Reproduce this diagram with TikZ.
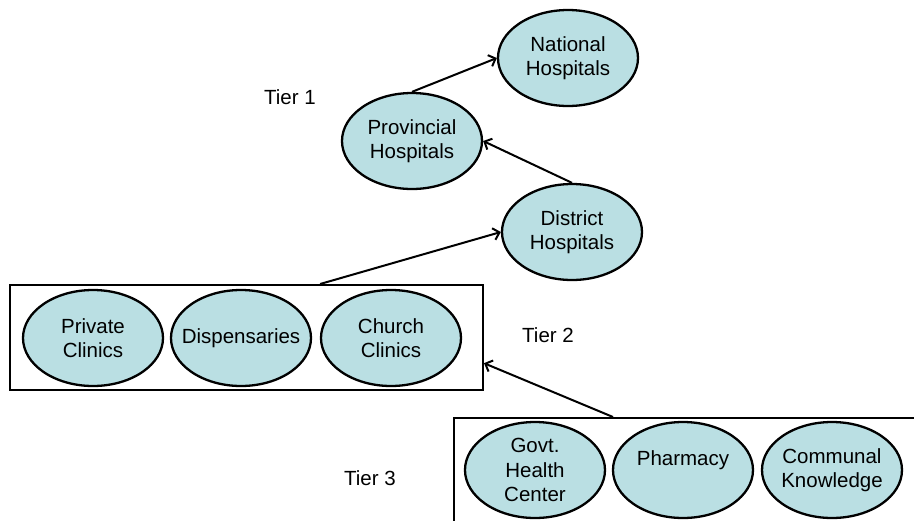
\documentclass[tikz,border=0pt]{standalone}
\usepackage{fontspec}
\setmainfont{Liberation Sans}
\usetikzlibrary{arrows.meta,calc,shapes.geometric}
\definecolor{tealfill}{RGB}{186,223,227}
\begin{document}
\begin{tikzpicture}[x=1pt,y=-1pt,
  every node/.style={font=\fontsize{20.5}{24.5}\selectfont},
  org/.style={ellipse,draw=black,line width=2.3pt,fill=tealfill,
    minimum width=140pt,minimum height=96pt,inner sep=-10pt,align=center},
  tierbox/.style={draw=black,line width=2pt,inner sep=0pt},
  link/.style={line width=2pt,-{Straight Barb[length=6pt,width=12pt]}},
  tierlabel/.style={inner sep=0pt}]
\useasboundingbox (0,0) rectangle (914,520);
\clip (0,0) rectangle (914,520);
% boxes
\node[tierbox,minimum width=473pt,minimum height=105pt] (t2) at (246.5,337.5) {};
\node[tierbox,minimum width=600pt,minimum height=200pt,anchor=north west] (t3) at (453,417) {};
% top tier
\node[org] (nat) at (568,58) {National\\Hospitals};
\node[org] (prov) at (412,141) {Provincial\\Hospitals};
\node[org] (dist) at (572,232) {District\\Hospitals};
% tier 2
\node[org] (priv) at (93,338) {Private\\Clinics};
\node[org,inner xsep=-14pt] (disp) at (241,338) {Dispensaries};
\node[org] (church) at (391,338) {Church\\Clinics};
% tier 3
\node[org] (govt) at (535,470) {Govt.\\Health\\Center};
\node[org] (pharm) at (683,470) {Pharmacy\\~};
\node[org] (comm) at (832,470) {Communal\\Knowledge};
% labels
\node[tierlabel] (l1) at (290,97) {Tier 1};
\node[tierlabel] (l2) at (548,335) {Tier 2};
\node[tierlabel] (l3) at (370,478) {Tier 3};
% connectors
\draw[link] (prov.north) -- (nat.west);
\draw[link] (dist.north) -- (prov.east);
\draw[link] ($(t2.north west)!0.655!(t2.north east)$) -- (dist.west);
\draw[link] ($(t3.north west)+(160,0)$) -- ($(t2.north east)!0.74!(t2.south east)$);
\end{tikzpicture}
\end{document}
